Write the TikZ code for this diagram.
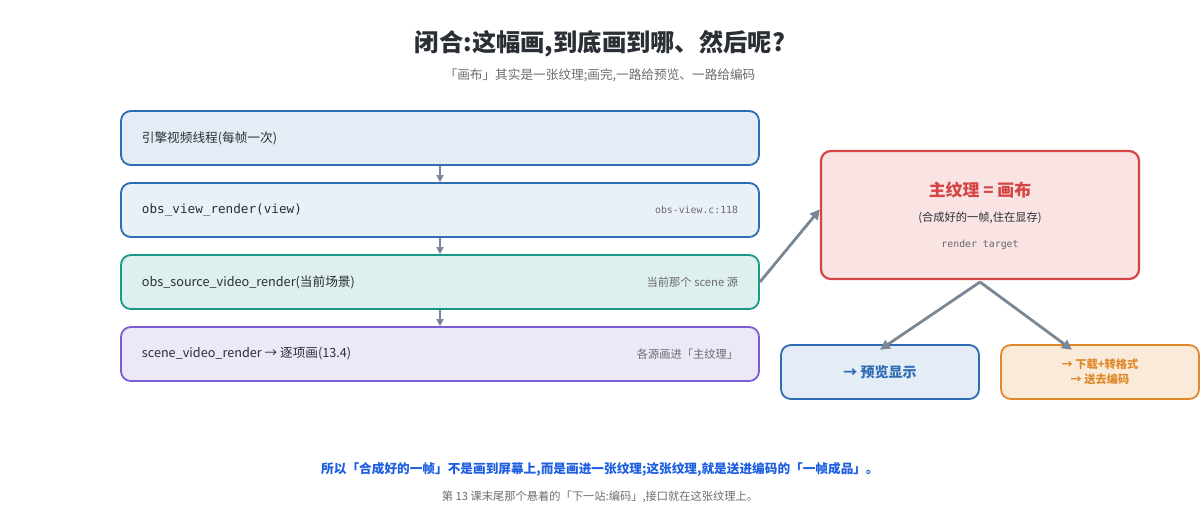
\documentclass[tikz,border=0pt]{standalone}
\usepackage{fontspec}
\setmainfont{Noto Sans CJK SC}
\setmonofont{DejaVu Sans Mono}
\usetikzlibrary{arrows.meta, positioning}
\definecolor{bluel}{HTML}{2E6DB4}
\definecolor{tealc}{HTML}{1A9A86}
\definecolor{purp}{HTML}{7D5BD0}
\definecolor{redc}{HTML}{D64545}
\definecolor{orng}{HTML}{E0892B}
\definecolor{arr}{HTML}{7A8794}
\definecolor{txt}{HTML}{2A2F36}
\definecolor{note}{HTML}{1D5FE0}

\begin{document}
\begin{tikzpicture}[x=0.025cm, y=-0.025cm, % px units
         > = {Triangle[length=7pt,width=7pt]},
box/.style = {draw, rounded corners=7pt, line width=1.3pt,
              minimum width=638*0.025cm, minimum height=54*0.025cm,
              inner sep=0pt},
tag/.style = {font=\footnotesize, text=gray!85!black, anchor=east},
flow/.style = {draw=arr, line width=2pt, ->}
                        ]
	\useasboundingbox (0,0) rectangle (1200,520);
	% title
	\node[font=\bfseries\LARGE, text=txt] (title) at (600,44) {闭合:这幅画,到底画到哪、然后呢?};
	\node[font=\small, text=gray!85!black] (sub) at (600,75) {「画布」其实是一张纹理;画完,一路给预览、一路给编码};

	% call chain
	\node[box, draw=bluel, fill=bluel!13] (engine) at (440,138) {};
	\node[box, draw=bluel, fill=bluel!10] (view)   at (440,210) {};
	\node[box, draw=tealc, fill=tealc!15] (source) at (440,282) {};
	\node[box, draw=purp, fill=purp!14]   (scene)  at (440,354) {};
	\node[anchor=west, font=\small, text=txt] at ([xshift=12pt]engine.west) {引擎视频线程(每帧一次)};
	\node[anchor=west, font=\small\ttfamily, text=txt] at ([xshift=12pt]view.west) {obs\_view\_render(view)};
	\node[anchor=west, font=\small, text=txt] at ([xshift=12pt]source.west) {obs\_source\_video\_render(当前场景)};
	\node[anchor=west, font=\small, text=txt] at ([xshift=12pt]scene.west) {scene\_video\_render → 逐项画(13.4)};
	\node[tag, font=\scriptsize\ttfamily] at ([xshift=-12pt]view.east) {obs-view.c:118};
	\node[tag] at ([xshift=-12pt]source.east) {当前那个 scene 源};
	\node[tag] at ([xshift=-12pt]scene.east) {各源画进「主纹理」};

	\foreach \a/\b in {engine/view, view/source, source/scene}
	  \draw[draw=arr, line width=1.2pt, -{Triangle[length=5pt,width=5pt]}] (\a) -- (\b);

	% canvas
	\node[box, draw=redc, fill=redc!15, line width=1.6pt,
	      minimum width=318*0.025cm, minimum height=128*0.025cm] (canvas) at (980,215) {};
	\node[font=\bfseries\large, text=redc] at (980,190) {主纹理 = 画布};
	\node[font=\footnotesize, text=txt] at (980,218) {(合成好的一帧,住在显存)};
	\node[font=\scriptsize\ttfamily, text=gray!80!black] at (980,245) {render target};

	\node[box, draw=bluel, fill=bluel!13, minimum width=198*0.025cm] (preview) at (880,372) {};
	\node[font=\bfseries, text=bluel] at (preview) {→ 预览显示};
	\node[box, draw=orng, fill=orng!18, minimum width=198*0.025cm] (encode) at (1100,372) {};
	\node[font=\bfseries\footnotesize, text=orng, align=center] at (encode) {→ 下载+转格式\\[1pt]→ 送去编码};

	\coordinate (cb) at (980,282);
	\draw[flow] (source.east) -- ([yshift=4pt]canvas.west);
	\draw[flow] (cb) -- ([yshift=-4pt]preview.north);
	\draw[flow] (cb) -- ([xshift=-20pt,yshift=-4pt]encode.north);

	% footer
	\node[font=\bfseries\small, text=note] (note) at (600,469) {所以「合成好的一帧」不是画到屏幕上,而是画进一张纹理;这张纹理,就是送进编码的「一帧成品」。};
	\node[font=\footnotesize, text=gray!85!black] (note2) at (600,497) {第 13 课末尾那个悬着的「下一站:编码」,接口就在这张纹理上。};
\end{tikzpicture}
\end{document}
